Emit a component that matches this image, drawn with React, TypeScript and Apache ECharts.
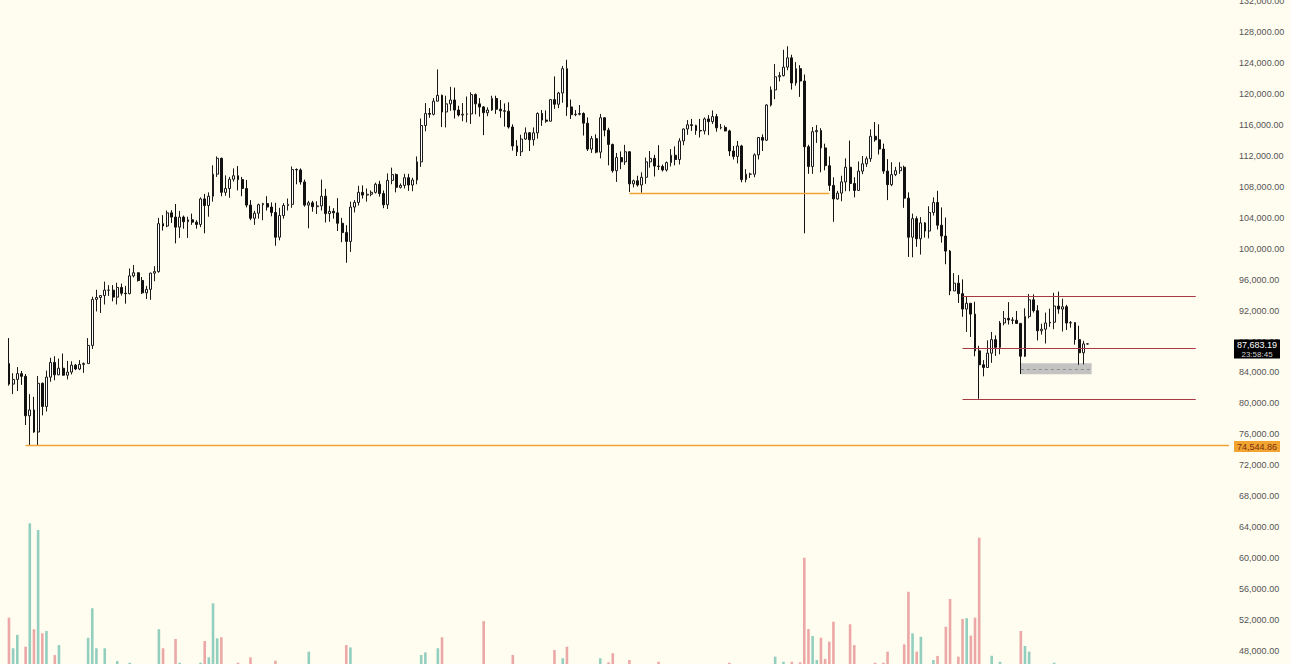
import React, { useEffect, useRef } from "react";
import * as echarts from "echarts";

// ---- data: daily BTC candles, [open, close, low, high] ----
const START_DATE = "2025-04-02";
const EMPTY_SLOTS = 34; // blank days to the right of the last candle

const apr: number[][] = [
  [85150, 82500, 82300, 88450], [82500, 83100, 81200, 83900], [83100, 83850, 81600, 84700],
  [83850, 83500, 82400, 84200], [83500, 78400, 77200, 83800], [78400, 79150, 74500, 81200],
  [79150, 76300, 76200, 80850], [76300, 82600, 74600, 83550], [82600, 79600, 78450, 82700],
  [79600, 83400, 78950, 84250], [83400, 85300, 82800, 85900], [85300, 83700, 83000, 86100],
  [83700, 84550, 83650, 85800], [84550, 83650, 83600, 86450], [83650, 84050, 83100, 85500],
  [84050, 84950, 83750, 85450], [84950, 84450, 84300, 85100], [84450, 85050, 84300, 85600],
  [85050, 85150, 83950, 85300], [85150, 87500, 85150, 88450], [87500, 93450, 87050, 93800],
  [93450, 93700, 91900, 94700], [93700, 93950, 91700, 94000], [93950, 94650, 92800, 95750],
  [94650, 94650, 93900, 95300], [94650, 93750, 93200, 95300], [93750, 95000, 92800, 95600],
  [95000, 94250, 93950, 95500], [94250, 94200, 92900, 95200],
];
const may: number[][] = [
  [94200, 96500, 94100, 97450], [96500, 96900, 96300, 97900], [96900, 95900, 95750, 96950],
  [95900, 94300, 94150, 96350], [94300, 94750, 93500, 95200], [94750, 96850, 93400, 96900],
  [96850, 97050, 95800, 97750], [97050, 103250, 96900, 104000], [103250, 102950, 102350, 104350],
  [102950, 104650, 102800, 104950], [104650, 104100, 103350, 105000], [104100, 102800, 100700, 105800],
  [102800, 104100, 101400, 104900], [104100, 103500, 102600, 104300], [103500, 103750, 101400, 104150],
  [103750, 103450, 103100, 104550], [103450, 103150, 102600, 103700], [103150, 106450, 102800, 106650],
  [106450, 105600, 102000, 107100], [105600, 106800, 104150, 107300], [106800, 109650, 106100, 110800],
  [109650, 111700, 109300, 111950], [111700, 107300, 106800, 111800], [107300, 107800, 106850, 109500],
  [107800, 109000, 106600, 109300], [109000, 109450, 108700, 110400], [109450, 108950, 107550, 110700],
  [108950, 107800, 106800, 109300], [107800, 105650, 105350, 108900], [105650, 103950, 103700, 106300],
  [103950, 104600, 103100, 104900],
];
const jun: number[][] = [
  [104600, 105700, 103900, 105850], [105700, 105850, 103700, 105950], [105850, 105400, 104950, 106800],
  [105400, 104700, 104200, 106000], [104700, 101500, 100400, 105950], [101500, 104300, 101100, 105300],
  [104300, 105600, 103900, 105900], [105600, 105750, 104950, 106500], [105750, 110250, 105300, 110650],
  [110250, 110200, 108350, 110400], [110200, 108650, 108300, 110400], [108650, 105650, 105450, 108950],
  [105650, 105950, 102650, 106200], [105950, 105450, 104800, 106200], [105450, 105550, 104500, 106150],
  [105550, 106800, 104950, 108950], [106800, 104550, 103400, 107750], [104550, 104850, 103500, 105550],
  [104850, 104650, 103900, 105250], [104650, 103300, 102300, 106550], [103300, 102100, 100850, 104000],
  [102100, 100950, 98200, 103050], [100950, 105400, 99600, 106100], [105400, 106000, 104700, 106300],
  [106000, 107300, 105600, 108150], [107300, 106950, 106500, 108200], [106950, 107050, 106100, 107800],
  [107050, 107300, 106800, 107550], [107300, 108350, 107150, 108550], [108350, 107150, 106750, 108800],
];
const jul: number[][] = [
  [107150, 105700, 105250, 107550], [105700, 108850, 105150, 109750], [108850, 109600, 108350, 110500],
  [109600, 107950, 107300, 109750], [107950, 108200, 107800, 108450], [108200, 109200, 107800, 109700],
  [109200, 108250, 107500, 109700], [108250, 108900, 107450, 109200], [108900, 111250, 108350, 111950],
  [111250, 115950, 110600, 116850], [115950, 117500, 115200, 118850], [117500, 117400, 116950, 118200],
  [117400, 119100, 117250, 119500], [119100, 119850, 119050, 123200], [119850, 117700, 115750, 119950],
  [117700, 118750, 115700, 119800], [118750, 119250, 117850, 120950], [119250, 117950, 116850, 120850],
  [117950, 117300, 117100, 118500], [117300, 117400, 116500, 118850], [117400, 117450, 116350, 119700],
  [117450, 119950, 116150, 120250], [119950, 118750, 117400, 120100], [118750, 118350, 117100, 119500],
  [118350, 117600, 114700, 118450], [117600, 117950, 117150, 118300], [117950, 119450, 117850, 119800],
  [119450, 118050, 117450, 119800], [118050, 117850, 116950, 119250], [117850, 117800, 115800, 118800],
  [117800, 115750, 115550, 118950],
];
const aug: number[][] = [
  [115750, 113300, 112700, 116100], [113300, 112550, 112000, 114050], [112550, 114200, 112000, 114750],
  [114200, 115000, 114100, 115700], [115000, 114100, 112650, 115100], [114100, 115000, 113350, 115700],
  [115000, 117500, 114250, 117650], [117500, 116650, 115900, 117950], [116650, 116500, 116300, 117900],
  [116500, 119300, 116500, 119350], [119300, 118700, 118100, 122300], [118700, 120150, 118200, 120300],
  [120150, 123300, 118900, 123650], [123300, 118350, 117200, 124450], [118350, 117350, 116800, 119300],
  [117350, 117400, 117150, 117950], [117400, 117500, 117250, 118600], [117500, 116250, 114650, 117650],
  [116250, 112900, 112650, 117000], [112900, 114250, 112400, 114600], [114250, 112500, 112350, 114800],
  [112500, 116950, 111700, 117450], [116950, 115350, 114550, 117000], [115350, 113500, 110800, 115650],
  [113500, 110100, 109850, 113600], [110100, 111800, 108650, 112400], [111800, 111250, 110300, 112600],
  [111250, 112550, 110850, 113450], [112550, 108400, 107350, 112650], [108400, 108800, 107950, 108950],
  [108800, 108250, 108050, 109450],
];
const sep: number[][] = [
  [108250, 109250, 107250, 109900], [109250, 111250, 108400, 111800], [111250, 111700, 110500, 112650],
  [111700, 110700, 109350, 112150], [110700, 110650, 110200, 113400], [110650, 110200, 110000, 110900],
  [110200, 111150, 110000, 111300], [111150, 112100, 110650, 112900], [112100, 111550, 110800, 113250],
  [111550, 113950, 110900, 114300], [113950, 115500, 113400, 115550], [115500, 116050, 114750, 116650],
  [116050, 115950, 115250, 116800], [115950, 115300, 114750, 116050], [115300, 115250, 114400, 116800],
  [115250, 116800, 114800, 117000], [116800, 116450, 114700, 117300], [116450, 117100, 116150, 117900],
  [117100, 115650, 115150, 117450], [115650, 115700, 115450, 116150], [115700, 115250, 115200, 115950],
  [115250, 112650, 112000, 115400], [112650, 111950, 111550, 113300], [111950, 113300, 111050, 113950],
  [113300, 108950, 108600, 113450], [108950, 109650, 108600, 110300], [109650, 109650, 109150, 109850],
  [109650, 112150, 109250, 112350], [112150, 114400, 111550, 114450], [114400, 114050, 112650, 114800],
];
const oct: number[][] = [
  [114050, 118600, 113950, 118700], [118600, 120550, 118400, 121000], [120550, 122250, 119350, 123900],
  [122250, 122400, 121650, 122850], [122400, 123500, 122300, 125750], [123500, 124700, 123100, 126200],
  [124700, 121450, 120600, 125100], [121450, 123300, 121100, 124150], [123300, 121700, 119650, 123750],
  [121700, 113200, 102000, 122550], [113200, 110650, 109700, 113450], [110650, 115150, 109700, 115750],
  [115150, 115300, 113700, 116000], [115300, 113050, 109900, 115600], [113050, 110750, 110150, 113600],
  [110750, 108200, 107500, 111950], [108200, 106450, 103500, 109250], [106450, 107200, 106350, 107500],
  [107200, 108650, 106150, 109450], [108650, 110550, 107450, 111700], [110550, 108450, 107450, 114000],
  [108450, 107550, 106650, 109250], [107550, 110050, 107500, 111300], [110050, 111000, 109650, 112000],
  [111000, 111650, 110600, 111950], [111650, 114550, 111250, 115450], [114550, 114100, 113850, 116400],
  [114100, 112900, 112200, 116100], [112900, 110050, 109700, 113600], [110050, 108300, 106300, 111600],
  [108300, 109600, 108100, 111200],
];
const nov: number[][] = [
  [109600, 110100, 109400, 110600], [110100, 110550, 109700, 111200], [110550, 106550, 105300, 110750],
  [106550, 101500, 98950, 107300], [101500, 103900, 98900, 104550], [103900, 101300, 100250, 104200],
  [101300, 103350, 99250, 104100], [103350, 102300, 101450, 103450], [102300, 104700, 101350, 105500],
  [104700, 106000, 104300, 106650], [106000, 103050, 102500, 107500], [103050, 101650, 100800, 105350],
  [101650, 99700, 98000, 104050], [99700, 94550, 94000, 99850], [94550, 95550, 94550, 96850],
  [95550, 94200, 93000, 96600], [94200, 92200, 91200, 96050], [92200, 92950, 89250, 93850],
  [92950, 91550, 88600, 92950], [91550, 86800, 86100, 93150], [86800, 85000, 80600, 87450],
  [85000, 84650, 83500, 85600], [84650, 86500, 84650, 88150], [86500, 88250, 85250, 89250],
  [88250, 87250, 86150, 88800], [87250, 90400, 86350, 90650], [90400, 91000, 90100, 91950],
  [91000, 90800, 90200, 93100], [90800, 90750, 90250, 91150], [90750, 90350, 90300, 91950],
];
const dec: number[][] = [
  [90350, 86100, 83800, 90400], [86100, 91250, 86000, 92300], [91250, 93400, 91000, 94150],
  [93400, 92000, 91750, 94100], [92000, 89400, 88150, 92700], [89400, 89600, 88900, 90300],
  [89600, 90400, 87750, 91750], [90400, 90500, 89900, 92250], [90500, 92600, 89600, 94300],
  [92600, 92200, 91600, 94450], [92200, 92500, 89300, 93550], [92500, 90400, 89500, 92750],
  [90400, 90450, 89800, 90650], [90450, 88250, 87600, 90500], [88250, 86550, 85000, 90050],
  [86550, 87700, 85050, 88100], [87700, 87683.19, 87650, 87750],
];

// ---- volume (thousand BTC) ----
const volApr = [36.0, 18.8, 26.3, 8, 19.7, 89.1, 29.5, 85.3, 27.2, 28.5, 9, 15.0, 20.6, 9, 7, 8, 5, 6, 7, 24.7, 41.3, 18.8, 9, 18.8, 6, 8, 11.6, 8, 9];
const volMay = [10.7, 8, 5, 7, 9, 9, 8, 29.5, 18.8, 8, 7, 24.0, 10.7, 9, 8, 7, 5, 10.7, 22.9, 13.7, 44.1, 24.4, 25.0, 9, 7, 8, 10.7, 9, 9.5, 13.7, 7];
const volJun = [6, 8, 8, 9, 11.8, 9, 7, 5, 9, 9, 8, 8, 16.9, 6, 5, 8, 8, 8, 9, 8, 9, 20.6, 19.3, 8, 7, 8, 6, 5, 5, 7];
const volJul = [8, 7, 6, 5, 6, 8, 7, 9, 9, 15.0, 16.5, 9, 7, 18.8, 25.0, 9, 8, 7, 6, 7, 8, 9, 8, 9, 34.1, 9, 7, 6, 8, 8, 9];
const volAug = [15.0, 9, 7, 6, 8, 7, 9, 6, 5, 8, 17.8, 9, 13.2, 19.7, 9, 8, 6, 5, 7, 9, 8, 13.2, 9, 10.9, 16.0, 9, 8, 9, 12.2, 7, 5];
const volSep = [8, 7, 8, 9, 11.2, 8, 7, 6, 5, 8, 9, 8, 6, 7, 8, 6, 5, 7, 8, 9, 8, 10.7, 9, 6, 5, 8, 7, 9, 8, 9];
const volOct = [9, 8, 14.1, 9, 11.2, 8, 11.2, 9, 10.9, 69.7, 29.6, 25.7, 12.2, 24.7, 12.8, 22.5, 33.7, 9, 8, 9, 32.3, 20.6, 9, 8, 7, 9, 10.7, 9, 10.7, 16.9, 9];
const volNov = [7, 8, 21.0, 50.6, 27.2, 16.9, 25.3, 9, 8, 12.2, 14.5, 9, 30.9, 46.5, 9, 14.1, 35.3, 35.7, 25.9, 36.0, 81.0, 9, 8, 14.6, 9, 11.2, 8, 7, 6, 8];
const volDec = [28.5, 20.1, 16.9, 9, 8, 7, 6, 8, 10.7, 8, 7, 9, 6, 8, 9, 8, 1];

// ---- levels and labels ----
const lastPrice = 87683.19;
const countdown = "23:58:45";
const supportLevel = 74544.86;
const septLow = 107250;
const rangeLevels = [93900, 87130, 80550];
const zoneTop = 85190;
const zoneBottom = 83760;
const zoneMid = 84475;
const priceTicks = { min: 44000, max: 136000, step: 4000 };

const candles = [...apr, ...may, ...jun, ...jul, ...aug, ...sep, ...oct, ...nov, ...dec];
const volumes = [...volApr, ...volMay, ...volJun, ...volJul, ...volAug, ...volSep, ...volOct, ...volNov, ...volDec];

function buildCategories(): string[] {
  const out: string[] = [];
  const d0 = new Date(START_DATE + "T00:00:00Z").getTime();
  for (let k = 0; k < candles.length + EMPTY_SLOTS; k++) {
    out.push(new Date(d0 + k * 86400000).toISOString().slice(0, 10));
  }
  return out;
}

const fmt = (v: number) =>
  v.toLocaleString("en-US", { minimumFractionDigits: 2, maximumFractionDigits: 2 });

export default function App() {
  const ref = useRef<HTMLDivElement>(null);
  useEffect(() => {
    if (!ref.current) return;
    const chart = echarts.init(ref.current, null, { renderer: "svg" });
    const categories = buildCategories();
    const lastIdx = candles.length - 1;
    const endIdx = categories.length - 1;
    const UP_VOL = "#93cfbf";
    const DOWN_VOL = "#eba8a6";
    const font = "Liberation Sans, Arial, sans-serif";

    const volData = volumes.map((v, i) => ({
      value: v,
      itemStyle: { color: candles[i][1] >= candles[i][0] ? UP_VOL : DOWN_VOL },
    }));

    const hLine = (a: number, b: number, y: number, color: string, width: number, type: any = "solid") => [
      { coord: [a, y], lineStyle: { color, width, type } },
      { coord: [b, y] },
    ];

    chart.setOption({
      animation: false,
      backgroundColor: "#fffcf0",
      grid: {
        left: 6.9,
        right: 58.9,
        top: -29.5,
        bottom: -17.7,
        outerBoundsMode: "none",
        containLabel: false,
      },
      xAxis: {
        type: "category",
        data: categories,
        show: false,
        boundaryGap: true,
      },
      yAxis: [
        {
          type: "value",
          position: "right",
          min: priceTicks.min,
          max: priceTicks.max,
          interval: priceTicks.step,
          splitLine: { show: false },
          axisLine: { show: false },
          axisTick: { show: false },
          axisLabel: {
            margin: 8,
            fontSize: 9,
            color: "#555555",
            fontFamily: font,
            showMinLabel: false,
            showMaxLabel: false,
            formatter: (v: number) => fmt(v),
          },
        },
        { type: "value", min: 0, max: 400, show: false },
      ],
      series: [
        {
          type: "bar",
          yAxisIndex: 1,
          data: volData,
          barWidth: 2.6,
          silent: true,
          z: 1,
        },
        {
          type: "candlestick",
          data: candles,
          barWidth: 2.4,
          z: 3,
          itemStyle: {
            color: "#ffffff",
            color0: "#111111",
            borderColor: "#1a1a1a",
            borderColor0: "#111111",
            borderWidth: 1,
          },
          markArea: {
            silent: true,
            itemStyle: { color: "#bdbdbd", opacity: 0.9 },
            data: [[{ coord: [243, zoneTop] }, { coord: [lastIdx + 1, zoneBottom] }]],
          },
          markLine: {
            silent: true,
            symbol: ["none", "none"],
            label: { show: false },
            data: [
              hLine(4, endIdx, supportLevel, "#efa535", 1.3),
              hLine(149, 197, septLow, "#efa535", 1.3),
              ...rangeLevels.map((lv) => hLine(229, 285, lv, "#a83842", 1)),
              hLine(243, lastIdx + 1, zoneMid, "#8e8e8e", 1, [3, 3]),
            ],
          },
        },
      ],
    });

    const yLast = chart.convertToPixel({ yAxisIndex: 0 }, lastPrice) as number;
    const ySup = chart.convertToPixel({ yAxisIndex: 0 }, supportLevel) as number;
    const boxX = 1234;
    const boxW = 46;
    chart.setOption({
      graphic: [
        { type: "rect", z: 100, shape: { x: boxX, y: yLast - 4.5, width: boxW, height: 19 }, style: { fill: "#000000" } },
        {
          type: "text", z: 101, x: boxX + boxW / 2, y: yLast + 0.5,
          style: { text: fmt(lastPrice), fill: "#ffffff", fontSize: 9, fontFamily: font, align: "center", verticalAlign: "middle" },
        },
        {
          type: "text", z: 101, x: boxX + boxW / 2, y: yLast + 10,
          style: { text: countdown, fill: "#cfcfcf", fontSize: 8, fontFamily: font, align: "center", verticalAlign: "middle" },
        },
        { type: "rect", z: 100, shape: { x: boxX, y: ySup - 4.5, width: boxW, height: 11 }, style: { fill: "#f2a431" } },
        {
          type: "text", z: 101, x: boxX + boxW / 2, y: ySup + 1,
          style: { text: fmt(supportLevel), fill: "#7a2e10", fontSize: 9, fontFamily: font, align: "center", verticalAlign: "middle" },
        },
      ],
    });

    return () => chart.dispose();
  }, []);

  return (
    <div
      ref={ref}
      style={{ position: "fixed", left: 0, top: 0, width: 1290, height: 664 }}
    />
  );
}
